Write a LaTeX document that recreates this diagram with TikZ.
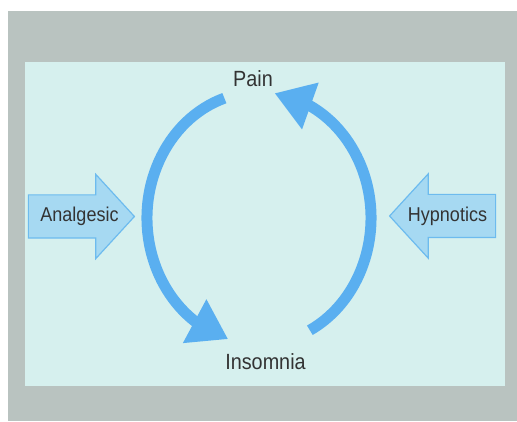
\documentclass[tikz,border=0pt]{standalone}
\usepackage{fontspec}
\setmainfont{Liberation Sans}[FakeStretch=0.9]
\usetikzlibrary{positioning, shapes.arrows, arrows.meta, bending, calc}
\definecolor{frame}{HTML}{B9C3C0}
\definecolor{panel}{HTML}{D6F0EE}
\definecolor{ring}{HTML}{5AAFF0}
\definecolor{drug}{HTML}{A6D9F2}
\definecolor{drugline}{HTML}{6DBBEE}
\definecolor{ink}{HTML}{333333}
\tikzset{state/.style = {text=ink, font=\fontsize{22}{24}\selectfont, inner sep=0pt}}
\tikzset{drug/.style = {single arrow, draw=drugline, fill=drug, line width=1.2pt, text height=14pt, text depth=4pt, inner ysep=12pt, inner xsep=0pt, single arrow head extend=20.5pt, single arrow tip angle=95, minimum height=106pt}}
\tikzset{drugtext/.style = {text=ink, font=\fontsize{20}{22}\selectfont, inner sep=0pt}}
\tikzset{cycle/.style = {draw=ring, line width=11pt, -{Triangle[flex, length=38pt, width=47pt]}}}

\begin{document}
\begin{tikzpicture}[x=1pt, y=1pt]
			\useasboundingbox (0,0) rectangle (517,421);
			% Frame and panel
			\fill[frame] (8,0) rectangle (517,410);
			\fill[panel] (25,35) rectangle (505,359);
			% Pain and Insomnia
			\node [state, anchor=base] (pain) at (253,334) {Pain};
			\node [state, anchor=base] (insomnia) at (265.5,52) {Insomnia};
			% Vicious circle
			\coordinate (ring) at (259,203);
			\draw[cycle] ($(ring)+(108:112 and 126)$) arc[start angle=108, end angle=254, x radius=112, y radius=126];
			\draw[cycle] ($(ring)+(297:112 and 126)$) arc[start angle=297, end angle=442, x radius=112, y radius=126];
			% Analgesic
			\node [drug, label={[drugtext, xshift=8pt]center:Analgesic}] (analgesic) at (71.5,204.5) {};
			% Hypnotics
			\node [drug, shape border rotate=180, label={[drugtext, xshift=-5pt]center:Hypnotics}] (hypnotics) at (452.5,205) {};
		\end{tikzpicture}
\end{document}
